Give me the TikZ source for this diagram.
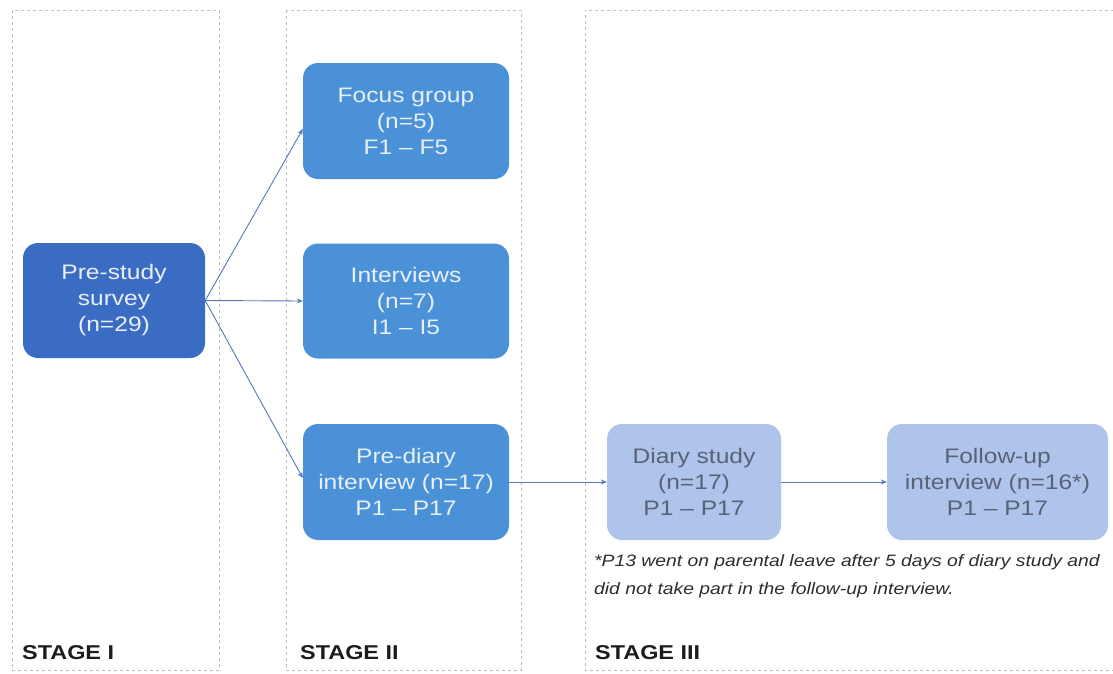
\documentclass[tikz,border=0pt]{standalone}
\usepackage{fontspec}
\setmainfont{Liberation Sans}[FakeStretch=1.17]
\usetikzlibrary{arrows.meta}
\definecolor{darkbox}{RGB}{59,108,196}
\definecolor{midbox}{RGB}{75,145,215}
\definecolor{lightbox}{RGB}{174,196,234}
\definecolor{lighttext}{RGB}{232,240,250}
\definecolor{graytext}{RGB}{88,98,120}
\definecolor{framegray}{RGB}{190,190,195}
\definecolor{arrowblue}{RGB}{88,118,184}
\tikzset{
  stagebox/.style={draw=framegray, line width=1pt, dash pattern=on 3pt off 3pt},
  boxbase/.style={rectangle, rounded corners=15pt, inner sep=2pt, align=center, font=\fontsize{21}{26}\selectfont},
  boxdark/.style={boxbase, fill=darkbox, text=lighttext},
  boxmid/.style={boxbase, fill=midbox, text=lighttext},
  boxlight/.style={boxbase, fill=lightbox, text=graytext},
  flow/.style={draw=arrowblue, line width=0.9pt, -{Stealth[length=6pt,width=5pt]}},
  stagelabel/.style={anchor=base west, inner sep=0pt, font=\fontsize{20}{24}\selectfont\bfseries, text={rgb,255:red,28;green,28;blue,28}},
  note/.style={anchor=north west, inner sep=0pt, align=left, font=\fontsize{16.5}{28}\selectfont\itshape, text={rgb,255:red,45;green,45;blue,45}}
}
\begin{document}
\begin{tikzpicture}[x=1pt,y=-1pt]
\useasboundingbox (0,0) rectangle (1113,673);
\fill[white] (0,0) rectangle (1113,673);
\draw[stagebox] (12,10) rectangle (219,670);
\draw[stagebox] (286,10) rectangle (521,670);
\draw[stagebox] (1120,10) -- (585,10) -- (585,670) -- (1120,670);

\node[boxdark, minimum width=182pt, minimum height=115pt] (survey) at (114,300.5) {Pre-study\\survey\\(n=29)};
\node[boxmid, minimum width=206pt, minimum height=116pt] (focus) at (406,121) {Focus group\\(n=5)\\F1 -- F5};
\node[boxmid, minimum width=206pt, minimum height=115pt] (interv) at (406,301) {Interviews\\(n=7)\\I1 -- I5};
\node[boxmid, minimum width=206pt, minimum height=116pt] (prediary) at (406,482) {Pre-diary\\interview (n=17)\\P1 -- P17};
\node[boxlight, minimum width=174pt, minimum height=116pt] (diary) at (694,482) {Diary study\\(n=17)\\P1 -- P17};
\node[boxlight, minimum width=221pt, minimum height=116pt] (follow) at (997.5,482) {Follow-up\\interview (n=16*)\\P1 -- P17};

\draw[flow] (survey.east) -- ([yshift=-8pt]focus.west);
\draw[flow] (survey.east) -- (interv.west);
\draw[flow] (survey.east) -- ([yshift=4pt]prediary.west);
\draw[flow] (prediary.east) -- (diary.west);
\draw[flow] (diary.east) -- (follow.west);

\node[note] (fn) at (594,554) {*P13 went on parental leave after 5 days of diary study and\\did not take part in the follow-up interview.};

\node[stagelabel] (l1) at (22,659) {STAGE I};
\node[stagelabel] (l2) at (300,659) {STAGE II};
\node[stagelabel] (l3) at (595,659) {STAGE III};
\end{tikzpicture}
\end{document}
